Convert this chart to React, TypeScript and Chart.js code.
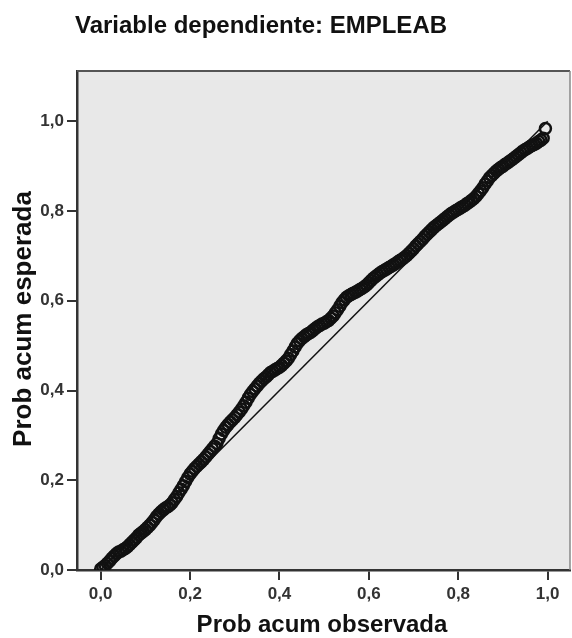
import { useEffect, useRef } from "react";
import { Chart, registerables } from "chart.js";

Chart.register(...registerables);

const titleText = "Variable dependiente: EMPLEAB";
const xTitle = "Prob acum observada";
const yTitle = "Prob acum esperada";
const tickValues = [0, 0.2, 0.4, 0.6, 0.8, 1.0];
const diagonalX = [0, 1];
const diagonalY = [0, 1];

const observed = [
  0.000, 0.005, 0.010, 0.015, 0.020, 0.025, 0.030, 0.035, 0.040, 0.045,
  0.050, 0.055, 0.060, 0.065, 0.070, 0.075, 0.080, 0.085, 0.090, 0.095,
  0.100, 0.105, 0.110, 0.115, 0.120, 0.125, 0.130, 0.135, 0.140, 0.145,
  0.150, 0.155, 0.160, 0.165, 0.170, 0.175, 0.180, 0.185, 0.190, 0.195,
  0.200, 0.205, 0.210, 0.215, 0.220, 0.225, 0.230, 0.235, 0.240, 0.245,
  0.250, 0.255, 0.260, 0.265, 0.270, 0.275, 0.280, 0.285, 0.290, 0.295,
  0.300, 0.305, 0.310, 0.315, 0.320, 0.325, 0.330, 0.335, 0.340, 0.345,
  0.350, 0.355, 0.360, 0.365, 0.370, 0.375, 0.380, 0.385, 0.390, 0.395,
  0.400, 0.405, 0.410, 0.415, 0.420, 0.425, 0.430, 0.435, 0.440, 0.445,
  0.450, 0.455, 0.460, 0.465, 0.470, 0.475, 0.480, 0.485, 0.490, 0.495,
  0.500, 0.505, 0.510, 0.515, 0.520, 0.525, 0.530, 0.535, 0.540, 0.545,
  0.550, 0.555, 0.560, 0.565, 0.570, 0.575, 0.580, 0.585, 0.590, 0.595,
  0.600, 0.605, 0.610, 0.615, 0.620, 0.625, 0.630, 0.635, 0.640, 0.645,
  0.650, 0.655, 0.660, 0.665, 0.670, 0.675, 0.680, 0.685, 0.690, 0.695,
  0.700, 0.705, 0.710, 0.715, 0.720, 0.725, 0.730, 0.735, 0.740, 0.745,
  0.750, 0.755, 0.760, 0.765, 0.770, 0.775, 0.780, 0.785, 0.790, 0.795,
  0.800, 0.805, 0.810, 0.815, 0.820, 0.825, 0.830, 0.835, 0.840, 0.845,
  0.850, 0.855, 0.860, 0.865, 0.870, 0.875, 0.880, 0.885, 0.890, 0.895,
  0.900, 0.905, 0.910, 0.915, 0.920, 0.925, 0.930, 0.935, 0.940, 0.945,
  0.950, 0.955, 0.960, 0.965, 0.970, 0.975, 0.980, 0.985, 0.990, 0.995,
];

const expected = [
  0.002, 0.006, 0.010, 0.015, 0.020, 0.026, 0.031, 0.036, 0.040, 0.042,
  0.045, 0.048, 0.052, 0.057, 0.062, 0.067, 0.072, 0.078, 0.082, 0.086,
  0.090, 0.095, 0.100, 0.106, 0.112, 0.119, 0.125, 0.130, 0.134, 0.138,
  0.141, 0.145, 0.150, 0.157, 0.164, 0.172, 0.180, 0.188, 0.197, 0.206,
  0.214, 0.220, 0.226, 0.231, 0.236, 0.241, 0.246, 0.252, 0.258, 0.264,
  0.270, 0.276, 0.282, 0.293, 0.303, 0.311, 0.318, 0.324, 0.330, 0.335,
  0.340, 0.346, 0.352, 0.359, 0.366, 0.374, 0.383, 0.391, 0.398, 0.404,
  0.410, 0.416, 0.421, 0.426, 0.430, 0.435, 0.440, 0.443, 0.446, 0.449,
  0.452, 0.456, 0.461, 0.466, 0.472, 0.480, 0.488, 0.497, 0.505, 0.511,
  0.516, 0.520, 0.524, 0.527, 0.530, 0.534, 0.538, 0.542, 0.545, 0.548,
  0.550, 0.553, 0.556, 0.561, 0.566, 0.573, 0.580, 0.588, 0.596, 0.602,
  0.608, 0.611, 0.614, 0.617, 0.619, 0.622, 0.625, 0.628, 0.631, 0.635,
  0.640, 0.645, 0.650, 0.654, 0.658, 0.662, 0.665, 0.668, 0.671, 0.674,
  0.677, 0.680, 0.683, 0.687, 0.690, 0.693, 0.697, 0.701, 0.706, 0.711,
  0.716, 0.722, 0.727, 0.732, 0.737, 0.743, 0.748, 0.753, 0.758, 0.763,
  0.767, 0.771, 0.775, 0.779, 0.783, 0.787, 0.791, 0.795, 0.798, 0.801,
  0.804, 0.807, 0.810, 0.813, 0.817, 0.820, 0.824, 0.828, 0.833, 0.839,
  0.845, 0.852, 0.860, 0.867, 0.874, 0.879, 0.884, 0.889, 0.893, 0.897,
  0.900, 0.904, 0.907, 0.911, 0.914, 0.918, 0.922, 0.926, 0.930, 0.934,
  0.937, 0.940, 0.943, 0.946, 0.948, 0.951, 0.955, 0.958, 0.962, 0.984,
];

const FONT = '"Liberation Sans", Arial, sans-serif';

const fmt = (v: number) => Number(v).toFixed(1).replace(".", ",");

const framePlugin = {
  id: "frameAndTitles",
  beforeDraw(chart: any) {
    const { ctx, chartArea } = chart;
    ctx.save();
    ctx.fillStyle = "#ffffff";
    ctx.fillRect(0, 0, chart.width, chart.height);
    ctx.fillStyle = "#e8e8e8";
    ctx.fillRect(
      chartArea.left,
      chartArea.top,
      chartArea.right - chartArea.left,
      chartArea.bottom - chartArea.top
    );
    ctx.restore();
  },
  afterDraw(chart: any) {
    const { ctx, chartArea } = chart;
    ctx.save();
    ctx.strokeStyle = "#555";
    ctx.lineWidth = 2;
    ctx.beginPath();
    ctx.moveTo(chartArea.left, chartArea.top);
    ctx.lineTo(chartArea.right, chartArea.top);
    ctx.stroke();
    ctx.strokeStyle = "#888";
    ctx.lineWidth = 1.5;
    ctx.beginPath();
    ctx.moveTo(chartArea.right, chartArea.top);
    ctx.lineTo(chartArea.right, chartArea.bottom);
    ctx.stroke();

    ctx.fillStyle = "#111";
    ctx.textAlign = "center";
    ctx.textBaseline = "alphabetic";
    ctx.font = `bold 24px ${FONT}`;
    ctx.fillText(titleText, 261, 33);

    ctx.font = `bold 24px ${FONT}`;
    ctx.fillText(xTitle, 322, 632);

    ctx.translate(31, 319);
    ctx.rotate(-Math.PI / 2);
    ctx.font = `bold 26px ${FONT}`;
    ctx.fillText(yTitle, 0, 0);
    ctx.restore();
  },
};

export default function App() {
  const ref = useRef<HTMLCanvasElement | null>(null);

  useEffect(() => {
    if (!ref.current) return;
    const points = observed.map((x, i) => ({ x, y: expected[i] }));
    const diag = diagonalX.map((x, i) => ({ x, y: diagonalY[i] }));
    const tickFont = { family: FONT, size: 17, weight: "bold" as const };

    const chart = new Chart(ref.current, {
      type: "scatter",
      data: {
        datasets: [
          {
            type: "line",
            data: diag,
            borderColor: "#111",
            borderWidth: 1.5,
            pointRadius: 0,
            fill: false,
            order: 2,
          } as any,
          {
            type: "scatter",
            data: points,
            pointStyle: "circle",
            pointRadius: 5.5,
            pointBorderWidth: 2.5,
            borderColor: "#111",
            backgroundColor: "rgba(0,0,0,0)",
            order: 1,
          } as any,
        ],
      },
      options: {
        animation: false,
        responsive: false,
        devicePixelRatio: 1,
        layout: {
          autoPadding: false,
          padding: { top: 71, right: 2, left: 0, bottom: 0 },
        },
        plugins: {
          legend: { display: false },
          tooltip: { enabled: false },
          title: { display: false },
        },
        scales: {
          x: {
            type: "linear",
            min: -0.053,
            max: 1.05,
            afterBuildTicks: (s: any) => {
              s.ticks = tickValues.map((v) => ({ value: v }));
            },
            afterFit: (s: any) => {
              s.height = 68;
              s.paddingLeft = 0;
              s.paddingRight = 0;
            },
            ticks: {
              callback: (v: any) => fmt(v),
              font: tickFont,
              color: "#333",
              padding: 4,
              maxRotation: 0,
              autoSkip: false,
            },
            grid: {
              drawOnChartArea: false,
              drawTicks: true,
              tickLength: 10,
              color: "#333",
              lineWidth: 2,
            },
            border: { display: true, color: "#333", width: 2.5 },
          },
          y: {
            type: "linear",
            min: 0,
            max: 1.112,
            afterBuildTicks: (s: any) => {
              s.ticks = tickValues.map((v) => ({ value: v }));
            },
            afterFit: (s: any) => {
              s.width = 77;
              s.paddingTop = 0;
              s.paddingBottom = 0;
            },
            ticks: {
              callback: (v: any) => fmt(v),
              font: tickFont,
              color: "#333",
              padding: 3,
              autoSkip: false,
            },
            grid: {
              drawOnChartArea: false,
              drawTicks: true,
              tickLength: 10,
              color: "#333",
              lineWidth: 2,
            },
            border: { display: true, color: "#333", width: 2.5 },
          },
        },
      },
      plugins: [framePlugin],
    });
    return () => chart.destroy();
  }, []);

  return (
    <div
      style={{
        position: "fixed",
        left: 0,
        top: 0,
        width: 572,
        height: 638,
        background: "#fff",
      }}
    >
      <canvas ref={ref} width={572} height={638} style={{ display: "block" }} />
    </div>
  );
}
